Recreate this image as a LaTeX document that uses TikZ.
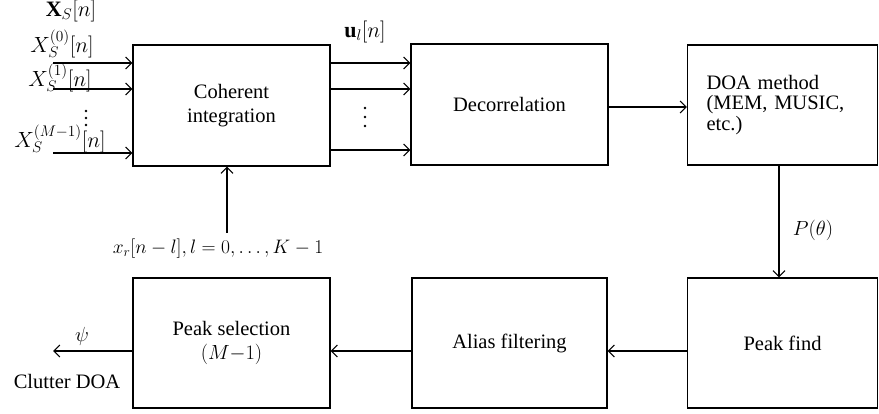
\RequirePackage{fix-cm}
\documentclass[tikz,border=0pt]{standalone}
\usepackage{fontspec}
\setmainfont{Liberation Serif}
\usetikzlibrary{arrows.meta}
\tikzset{
  blk/.style={draw, line width=1.2pt, minimum width=197pt, minimum height=121pt, inner sep=0pt, align=center, font=\fontsize{20.5}{24}\selectfont},
  lbl/.style={inner sep=0pt, font=\fontsize{20.5}{24}\selectfont},
  biglbl/.style={inner sep=0pt, font=\fontsize{22}{24}\selectfont},
  dotc/.style={circle, fill, inner sep=0pt, minimum size=2.6pt},
  arr/.style={line width=1.1pt, -{Straight Barb[length=6pt,width=12pt,line width=1.1pt]}},
}
\begin{document}
\begin{tikzpicture}[x=1pt,y=-1pt]
\useasboundingbox (0,0) rectangle (879,414);
% top row
\node[blk] (ci) at (231.5,105.5) {Coherent\\integration};
\node[blk] (dec) at (509.5,104.5) {Decorrelation};
\node[blk, minimum width=190pt, minimum height=120pt, align=left, text width=152pt, inner xsep=19pt, font=\fontsize{20.5}{20.5}\selectfont] (doa) at (782.5,105) {DOA method\\(MEM, MUSIC,\\etc.)};
% bottom row
\node[blk, minimum height=130pt] (ps) at (231.5,343) {Peak selection\\$(M{-}1)$};
\node[blk, minimum width=195pt, minimum height=130pt] (af) at (509.5,343) {Alias filtering};
\node[blk, minimum width=190pt, minimum height=130pt] (pf) at (782.5,343) {Peak find};
% inputs
\coordinate (i0) at (53,63);
\coordinate (i1) at (53,89);
\coordinate (i2) at (53,153);
\draw[arr] (i0) -- (ci.west |- i0);
\draw[arr] (i1) -- (ci.west |- i1);
\draw[arr] (i2) -- (ci.west |- i2);
\node[biglbl] (xs) at (71,11) {$\mathbf{X}_S[n]$};
\node[biglbl, anchor=base] (x0) at (62,53) {$X_S^{(0)}[n]$};
\node[biglbl, anchor=base] (x1) at (60,87) {$X_S^{(1)}[n]$};
\node[dotc] (d1a) at (86,111) {};
\node[dotc] (d1b) at (86,118) {};
\node[dotc] (d1c) at (86,125) {};
\node[biglbl, anchor=base] (x2) at (60,148) {$X_S^{(M-1)}[n]$};
% u_l outputs
\coordinate (u0) at (ci.east |- 0,63);
\coordinate (u1) at (ci.east |- 0,89);
\coordinate (u2) at (ci.east |- 0,150);
\draw[arr] (u0) -- (dec.west |- u0);
\draw[arr] (u1) -- (dec.west |- u1);
\draw[arr] (u2) -- (dec.west |- u2);
\node[biglbl] (ul) at (365,32) {$\mathbf{u}_l[n]$};
\node[dotc] (d2a) at (365,108) {};
\node[dotc] (d2b) at (365,117) {};
\node[dotc] (d2c) at (365,126) {};
% reference input
\coordinate (xr) at (227,233);
\draw[arr] (xr) -- (ci.south -| xr);
\node[lbl, font=\fontsize{19.5}{24}\selectfont] (xrl) at (218,249) {$x_r[n-l], l=0,\ldots,K-1$};
% decorrelation to DOA
\draw[arr] (dec.east |- 0,107) -- (doa.west |- 0,107);
% DOA to peak find
\coordinate (pv) at (779,0);
\draw[arr] (doa.south -| pv) -- (pf.north -| pv);
\node[lbl] (pth) at (813,230) {$P(\theta)$};
% bottom chain
\draw[arr] (pf.west |- 0,351) -- (af.east |- 0,351);
\draw[arr] (af.west |- 0,351) -- (ps.east |- 0,351);
\coordinate (out) at (53,351);
\draw[arr] (ps.west |- out) -- (out);
\node[lbl] (psi) at (82,336) {$\psi$};
\node[lbl] (cd) at (67,381) {Clutter DOA};
\end{tikzpicture}
\end{document}
